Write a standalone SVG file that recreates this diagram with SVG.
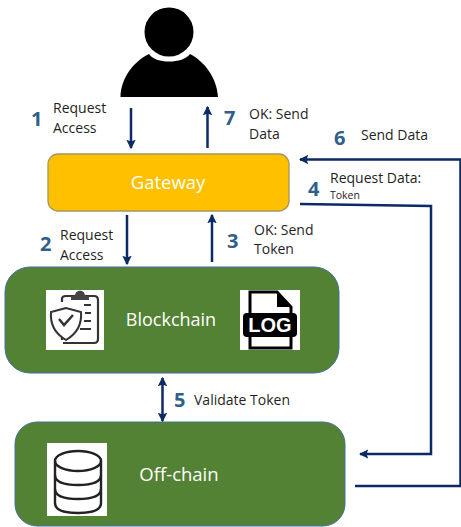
<svg xmlns="http://www.w3.org/2000/svg" width="461" height="527" viewBox="0 0 461 527">
<style>
text{font-family:"Open Sans","Noto Sans","Liberation Sans",sans-serif}
.l{font-size:14px;fill:#1f1f1f}
.s{font-size:10.500px;fill:#1f1f1f}
.n{font-size:20px;font-weight:700;fill:#2f5f8a}
.t{font-size:18.500px;fill:#fff;text-anchor:middle}
.c{fill:none;stroke:#0b2a66;stroke-width:2.500}
.box{fill:#548235;stroke:#41719c;stroke-width:1}
.ic{fill:none;stroke:#333;stroke-width:2.200}
</style>
<defs>
<marker id="a" viewBox="0 0 8 8" refX="7" refY="4" markerWidth="3.800" markerHeight="3.800" orient="auto-start-reverse"><path d="M0 0L8 4L0 8L1.500 4Z" fill="#0b2a66"/></marker>
</defs>
<rect width="461" height="527" fill="#fff"/>
<g id="user">
<circle cx="169" cy="32" r="24.500" fill="#000"/>
<path d="M120.500 97C121 78 133 62 149 54C155 64 183 64 190 54C205 62 217 78 218 97Z" fill="#000"/>
</g>
<g id="gateway">
<rect x="48" y="154" width="241" height="57" rx="10" fill="#ffc000" stroke="#a5975c" stroke-width="1.300"/>
<text class="t" x="168" y="189">Gateway</text>
</g>
<g id="blockchain">
<rect class="box" x="5" y="267" width="334" height="106" rx="25"/>
<text class="t" x="171" y="326" style="font-size:18px">Blockchain</text>
<rect x="46" y="290" width="58" height="60" fill="#fff"/>
<g class="ic">
<path d="M62 302V299Q62 296 66 296H94Q98 296 98 300V339Q98 343 94 343H63"/>
<path d="M84 305H91M85 313H91M84 321H91M80 329H91" stroke-width="2"/>
<path d="M62 336V340"/>
<path d="M66 308L51 312C50 324 54 333 66 340C78 333 82 324 81 312Z" fill="#fff" stroke-width="2"/>
<path d="M59 319L64 325L73 315" stroke-width="2.500"/>
</g>
<path d="M71 300V296H75C75 289 85 289 85 296H89V300Z" fill="#444"/>
<rect x="240" y="290" width="60" height="60" fill="#fff"/>
<path d="M250 315V292H277L291 307V315M250 332V348H291V332" fill="none" stroke="#000" stroke-width="3"/>
<path d="M277 292V307H291Z" fill="#000"/>
<rect x="243" y="313" width="54" height="24" rx="4" fill="#000"/>
<text x="270" y="332" text-anchor="middle" style="font-family:'Liberation Sans',sans-serif;font-size:20px;font-weight:700;fill:#fff">LOG</text>
</g>
<g id="offchain">
<rect class="box" x="15" y="422" width="330" height="104" rx="22"/>
<text class="t" x="179" y="481">Off-chain</text>
<rect x="47" y="443" width="60" height="73" fill="#fff"/>
<g fill="none" stroke="#222" stroke-width="2.400">
<ellipse cx="78" cy="461" rx="23" ry="10"/>
<path d="M55 461V503C55 510 65 513 78 513C91 513 101 510 101 503V461"/>
<path d="M55 475C55 482 65 485 78 485C91 485 101 482 101 475"/>
<path d="M55 489C55 496 65 499 78 499C91 499 101 496 101 489"/>
</g>
</g>
<g id="connectors">
<path class="c" d="M131 108V148" marker-end="url(#a)"/>
<path class="c" d="M207.500 148V107" marker-end="url(#a)"/>
<path class="c" d="M127 215V264" marker-end="url(#a)"/>
<path class="c" d="M212 262V215" marker-end="url(#a)"/>
<path class="c" d="M355 486H460.500V159.500H300" marker-end="url(#a)"/>
<path class="c" d="M300 204L431 206V454H360" marker-end="url(#a)"/>
<path class="c" d="M162.500 378V421" marker-start="url(#a)" marker-end="url(#a)"/>
</g>
<g id="labels">
<text class="n" x="31" y="126">1</text>
<text class="l" x="53" y="113">Request</text>
<text class="l" x="53" y="133">Access</text>
<text class="n" x="224" y="125">7</text>
<text class="l" x="249" y="119">OK: Send</text>
<text class="l" x="249" y="139">Data</text>
<text class="n" x="334" y="145">6</text>
<text class="l" x="361" y="140">Send Data</text>
<text class="n" x="308" y="196">4</text>
<text class="l" x="330" y="183">Request Data:</text>
<text class="s" x="330" y="199">Token</text>
<text class="n" x="40" y="251">2</text>
<text class="l" x="60" y="240">Request</text>
<text class="l" x="60" y="260">Access</text>
<text class="n" x="227" y="248">3</text>
<text class="l" x="254" y="235">OK: Send</text>
<text class="l" x="254" y="254">Token</text>
<text class="n" x="174" y="407">5</text>
<text class="l" x="194" y="405">Validate Token</text>
</g>
</svg>
